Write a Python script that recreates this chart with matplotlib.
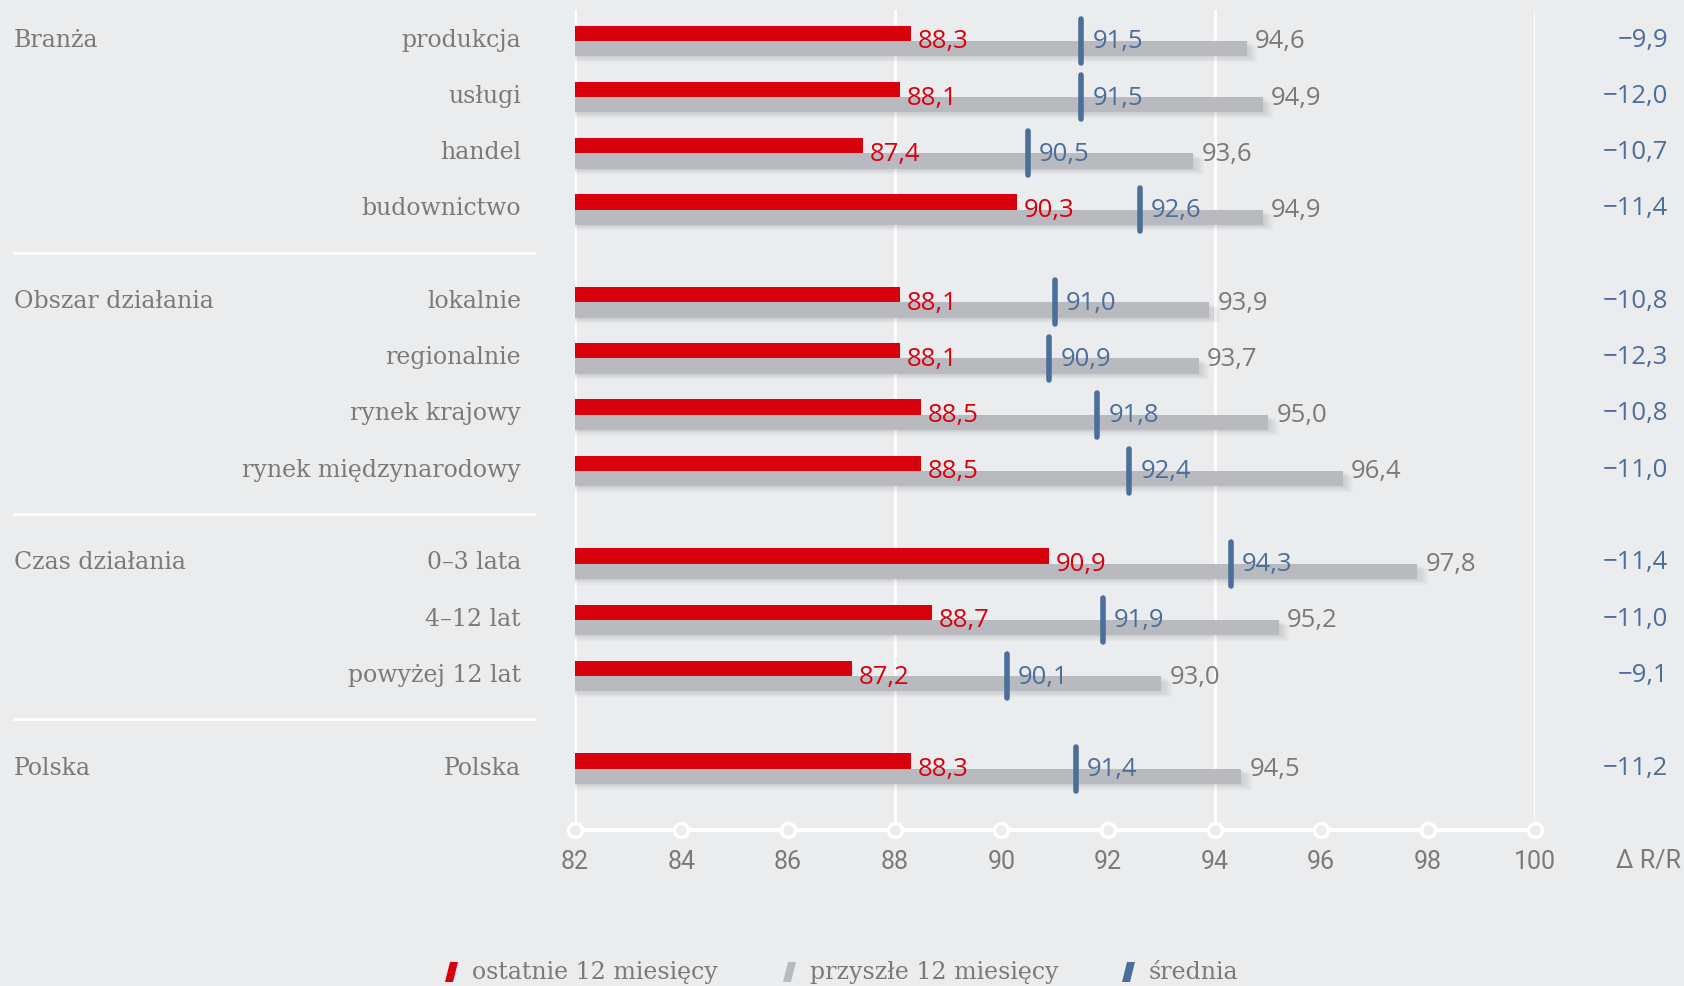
import matplotlib
matplotlib.use("Agg")
import matplotlib.pyplot as plt
from matplotlib.patches import Polygon
from matplotlib.transforms import blended_transform_factory

# data
groups = ["Branża", "Obszar działania", "Czas działania", "Polska"]
group_sizes = [4, 4, 3, 1]
categories = ["produkcja", "usługi", "handel", "budownictwo",
              "lokalnie", "regionalnie", "rynek krajowy", "rynek międzynarodowy",
              "0–3 lata", "4–12 lat", "powyżej 12 lat",
              "Polska"]
last12 = [88.3, 88.1, 87.4, 90.3, 88.1, 88.1, 88.5, 88.5, 90.9, 88.7, 87.2, 88.3]
next12 = [94.6, 94.9, 93.6, 94.9, 93.9, 93.7, 95.0, 96.4, 97.8, 95.2, 93.0, 94.5]
mean = [91.5, 91.5, 90.5, 92.6, 91.0, 90.9, 91.8, 92.4, 94.3, 91.9, 90.1, 91.4]
delta = [-9.9, -12.0, -10.7, -11.4, -10.8, -12.3, -10.8, -11.0, -11.4, -11.0, -9.1, -11.2]
xticks = [82, 84, 86, 88, 90, 92, 94, 96, 98, 100]

BG = "#ebecee"
RED = "#d9000d"
GREY = "#b9bac0"
BLUE = "#4a6f9a"
TXT = "#7a7a7a"
SERIF = ["DejaVu Serif"]
SANS = ["Open Sans", "DejaVu Sans"]
NARROW = ["Liberation Sans Narrow", "Roboto", "DejaVu Sans"]

def fmt(v):
    return f"{v:.1f}".replace(".", ",").replace("-", "−")

# row positions with gaps between groups
gap = 1.65
ypos = []
group_start = []
y = 0.0
for n in group_sizes:
    group_start.append(y)
    for i in range(n):
        ypos.append(y + i)
    y += (n - 1) + gap
seps = []
for k in range(len(group_sizes) - 1):
    last = group_start[k] + group_sizes[k] - 1
    seps.append((last + group_start[k + 1]) / 2 - 0.06)

fig = plt.figure(figsize=(16.84, 9.87), dpi=100, facecolor=BG)
ax = fig.add_axes([574.6 / 1684, 1 - 831 / 987, 960 / 1684, 820 / 987])
ax.set_facecolor(BG)
ax.set_xlim(82, 100)
ax.set_ylim(14.04, -0.55)
for s in ax.spines.values():
    s.set_visible(False)
ax.set_yticks([])
ax.set_xticks([])

# vertical white grid
for gx in [82, 88, 94, 100]:
    ax.axvline(gx, color="white", lw=2, zorder=0)

h = 0.272
# shadow under grey bars
for k in range(1, 6):
    ax.barh([p + h / 2 + 0.02 * k for p in ypos], [v - 82 + 0.04 * k for v in next12],
            left=82, height=h, color="#000000", alpha=0.025, zorder=1, lw=0)
ax.barh([p + h / 2 for p in ypos], [v - 82 for v in next12], left=82, height=h,
        color=GREY, zorder=2, lw=0)
ax.barh([p - h / 2 for p in ypos], [v - 82 for v in last12], left=82, height=h,
        color=RED, zorder=3, lw=0)
mk = ax.vlines(mean, [p - 0.39 for p in ypos], [p + 0.39 for p in ypos],
               color=BLUE, lw=4, zorder=4)
mk.set_capstyle("round")

for p, r, g, m in zip(ypos, last12, next12, mean):
    ax.annotate(fmt(r), (r, p), xytext=(5, 0), textcoords="offset points",
                ha="left", va="center", color=RED, fontsize=18.5, family=SANS, zorder=5)
    ax.annotate(fmt(m), (m, p), xytext=(8, 0), textcoords="offset points",
                ha="left", va="center", color=BLUE, fontsize=18.5, family=SANS, zorder=5)
    ax.annotate(fmt(g), (g, p), xytext=(6, 0), textcoords="offset points",
                ha="left", va="center", color=TXT, fontsize=18.5, family=SANS, zorder=5)

# texts outside axes: figure x, data y
bt = blended_transform_factory(fig.transFigure, ax.transData)
for p, d, c in zip(ypos, delta, categories):
    ax.text(1668 / 1684, p - 0.03, fmt(d), transform=bt, ha="right", va="center",
            color=BLUE, fontsize=18.5, family=SANS, clip_on=False)
    ax.text(521 / 1684, p - 0.03, c, transform=bt, ha="right", va="center",
            color=TXT, fontsize=17, family=SERIF, clip_on=False)
for gname, gs in zip(groups, group_start):
    ax.text(14 / 1684, gs - 0.03, gname, transform=bt, ha="left", va="center",
            color=TXT, fontsize=17, family=SERIF, clip_on=False)
for sy in seps:
    ax.plot([14 / 1684, 534 / 1684], [sy, sy], transform=bt, color="white", lw=2,
            clip_on=False)

# bottom axis: white line with hollow circles
ax.plot([82, 100], [14.04, 14.04], color="white", lw=3, clip_on=False, zorder=5)
ax.plot(xticks, [14.04] * len(xticks), ls="none", marker="o", ms=10, mfc=BG,
        mec="white", mew=2.5, clip_on=False, zorder=6)
for t in xticks:
    ax.annotate(str(t), (t, 14.04), xytext=(0, -22), textcoords="offset points",
                ha="center", va="center", color=TXT, fontsize=18, family=NARROW,
                annotation_clip=False)
fig.text(1681 / 1684, 1 - 861 / 987, "Δ R/R", ha="right", va="center", color=TXT,
         fontsize=18, family=NARROW)

# legend
legend_items = [("ostatnie 12 miesięcy", RED, 451), ("przyszłe 12 miesięcy", GREY, 789),
                ("średnia", BLUE, 1128)]
W, H = 1684, 987
for label, col, x0 in legend_items:
    yc = 973
    pts = [((x0 - 6) / W, 1 - (yc + 10) / H), ((x0 + 2) / W, 1 - (yc + 10) / H),
           ((x0 + 7) / W, 1 - (yc - 10) / H), ((x0 - 1) / W, 1 - (yc - 10) / H)]
    fig.patches.append(Polygon(pts, closed=True, transform=fig.transFigure,
                               facecolor=col, edgecolor="none"))
    fig.text((x0 + 21) / W, 1 - yc / H, label, ha="left", va="center", color=TXT,
             fontsize=17, family=SERIF)

fig.savefig("out.png", dpi=100, facecolor=BG)
